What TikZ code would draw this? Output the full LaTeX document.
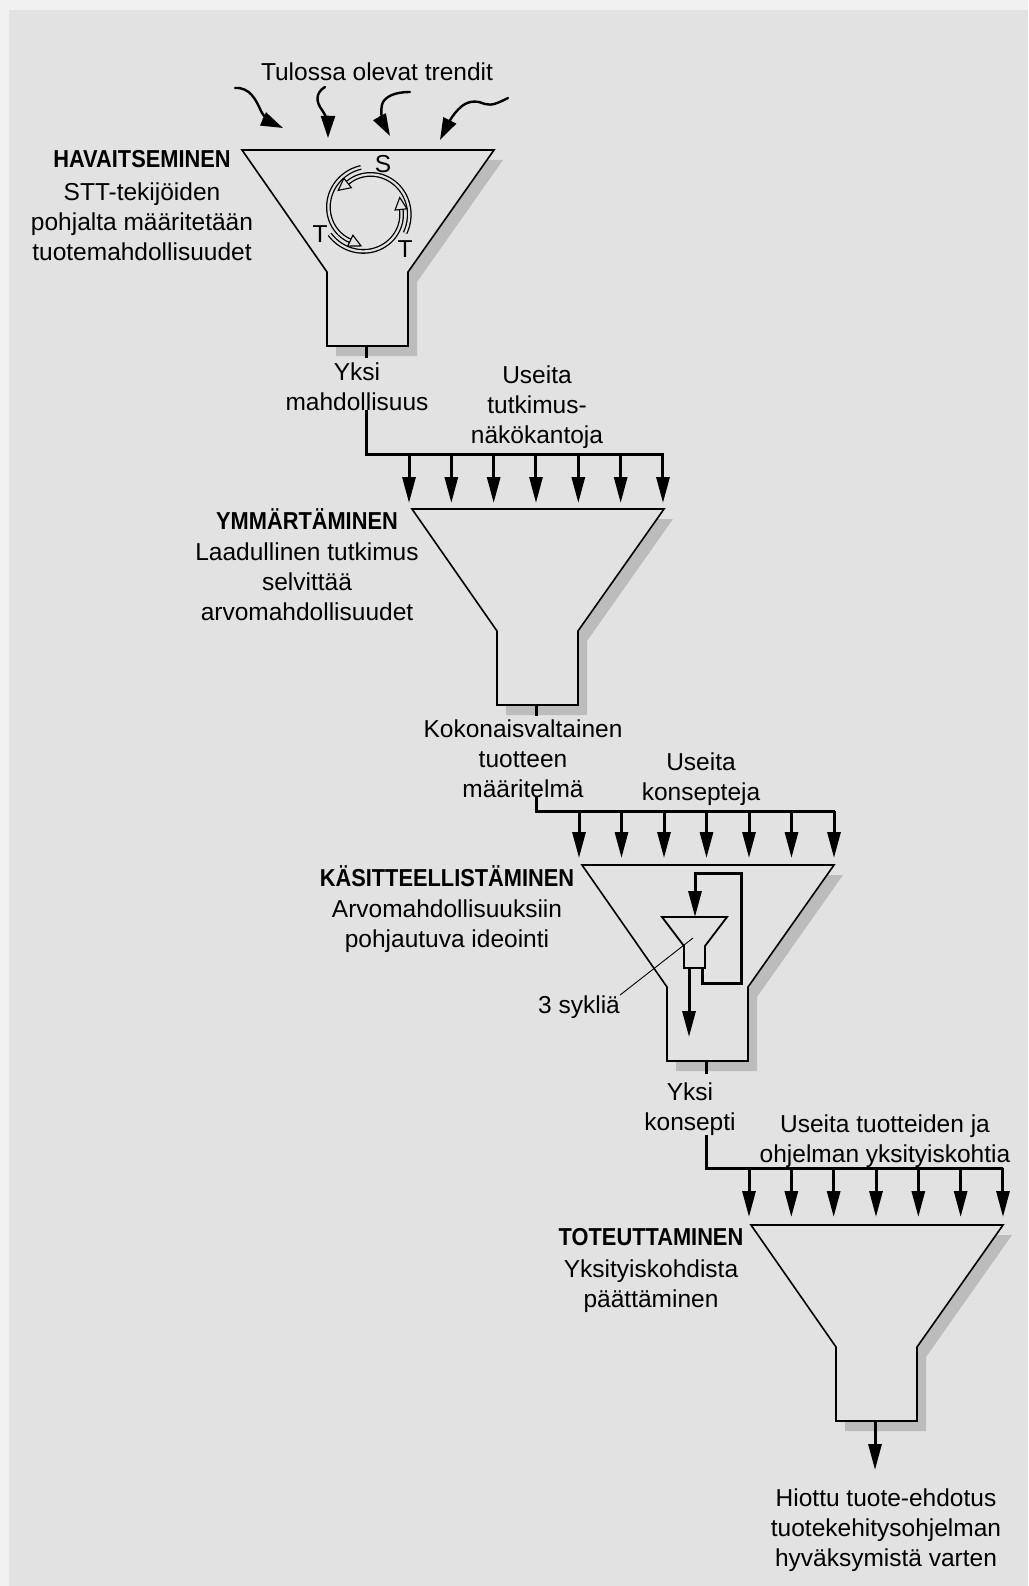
\documentclass[tikz,border=0pt]{standalone}
\usepackage{fontspec}
\newfontfamily\dfont[BoldFeatures={FakeStretch=0.89}]{Liberation Sans}
\usetikzlibrary{arrows.meta}
\definecolor{paper}{HTML}{E2E2E2}
\definecolor{rim}{HTML}{F1F1F1}
\definecolor{shadowgray}{HTML}{BCBCBC}
\tikzset{
  lbl/.style={font=\dfont\fontsize{24.5}{30}\selectfont, align=center, inner sep=0pt, anchor=base},
  fline/.style={line width=1.6pt, line join=miter},
  conn/.style={line width=3pt},
  feed/.style={line width=3pt, -{Triangle[length=26pt,width=13pt]}},
  trend/.style={line width=2.4pt, line cap=round, -{Triangle[length=22pt,width=14pt]}},
  cycarc/.style={line width=1.3pt, double=paper, double distance=2.2pt},
  funnel/.pic={
    \fill[shadowgray] (9,10) -- (261,10) -- (175,132) -- (175,206) -- (94,206) -- (94,132) -- cycle;
    \filldraw[fill=paper, fline] (0,0) -- (252,0) -- (166,122) -- (166,196) -- (85,196) -- (85,122) -- cycle;
    \coordinate (-stem) at (124,196);
  },
  minifunnel/.pic={
    \filldraw[fill=paper, line width=1.8pt, line join=miter] (0,0) -- (65,0) -- (43,29) -- (43,51) -- (22,51) -- (22,29) -- cycle;
    \coordinate (-in) at (33,0);
    \coordinate (-out) at (27,51);
    \coordinate (-loop) at (40,51);
    \coordinate (-mid) at (31,21);
  }
}
\begin{document}
\begin{tikzpicture}[x=1pt,y=-1pt]
% page
\fill[rim] (0,0) rectangle (1028,1586);
\fill[paper] (9,10) rectangle (1028,1586);
\useasboundingbox (0,0) rectangle (1028,1586);

% the four funnels
\pic (f1) at (242,150) {funnel};
\pic (f2) at (412,509) {funnel};
\pic (f3) at (582,865) {funnel};
\pic (f4) at (751,1225) {funnel};

% incoming trends
\node[lbl] (trends) at (377,81) {Tulossa olevat trendit};
\draw[trend] (235,88) .. controls (250,87) and (256,100) .. (261,111) .. controls (265,119) and (272,123) .. (283,128);
\draw[trend] (325,87) .. controls (315,93) and (316,102) .. (322,110) .. controls (327,117) and (328,125) .. (328,138);
\draw[trend] (410,92) .. controls (400,92) and (388,94) .. (383,102) .. controls (379,110) and (384,125) .. (390,136);
\draw[trend] (508,98) .. controls (498,103) and (492,106) .. (485,104) .. controls (478,101) and (470,100) .. (462,106) .. controls (452,114) and (446,128) .. (440,140);

% S-T-T cycle
\foreach \a/\b in {-30/128, 98/244, 212/366}{
  \draw[cycarc] plot[domain=\a:\b, samples=50, variable=\t]
    ({367+(44-10*(\t-\a)/(\b-\a))*cos(\t)}, {211-(44-10*(\t-\a)/(\b-\a))*sin(\t)});
  \pgfmathsetmacro\px{367+34*cos(\b)}
  \pgfmathsetmacro\py{211-34*sin(\b)}
  \pgfmathsetmacro\dx{-sin(\b)}
  \pgfmathsetmacro\dy{-cos(\b)}
  \draw[fill=paper, line width=1.1pt, line join=miter]
    (\px+10*\dx, \py+10*\dy) -- (\px-2*\dx+6*\dy, \py-2*\dy-6*\dx) -- (\px-2*\dx-6*\dy, \py-2*\dy+6*\dx) -- cycle;
}
\node[lbl] (cs) at (383,173) {S};
\node[lbl] (ct1) at (320,243) {T};
\node[lbl] (ct2) at (405,258) {T};

% stage texts (anchored at the baseline of their last line)
\node[lbl] (st1) at (142,261) {\textbf{HAVAITSEMINEN}\\[3pt] STT-tekijöiden\\ pohjalta määritetään\\ tuotemahdollisuudet};
\node[lbl] (st2) at (307,620) {\textbf{YMMÄRTÄMINEN}\\[1pt] Laadullinen tutkimus\\ selvittää\\ arvomahdollisuudet};
\node[lbl] (st3) at (447,947) {\textbf{KÄSITTEELLISTÄMINEN}\\[1pt] Arvomahdollisuuksiin\\ pohjautuva ideointi};
\node[lbl] (st4) at (651,1307) {\textbf{TOTEUTTAMINEN}\\[2pt] Yksityiskohdista\\ päättäminen};

% outputs and inputs between stages
\node[lbl] (out1) at (357,410) {Yksi\\ mahdollisuus};
\node[lbl] (many1) at (537,443) {Useita\\ tutkimus-\\ näkökantoja};
\node[lbl] (out2) at (523,797) {Kokonaisvaltainen\\ tuotteen\\ määritelmä};
\node[lbl] (many2) at (701,800) {Useita\\ konsepteja};
\node[lbl] (out3) at (690,1130) {Yksi\\ konsepti};
\node[lbl] (many3) at (885,1162) {Useita tuotteiden ja\\ ohjelman yksityiskohtia};
\node[lbl] (result) at (886,1566) {Hiottu tuote-ehdotus\\ tuotekehitysohjelman\\ hyväksymistä varten};

% stage 1 -> stage 2
\draw[conn] (f1-stem) -- ++(0,12);
\coordinate (bar1) at (664,454);
\draw[conn] (out1.south -| f1-stem) |- (bar1);
\foreach \i in {0,...,6} \draw[feed] (409+\i*42.33,454) -- (409+\i*42.33,503);

% stage 2 -> stage 3
\draw[conn] (f2-stem) -- ++(0,11);
\coordinate (bar2) at (835,811);
\draw[conn] (out2.south -| f2-stem) |- (bar2);
\foreach \i in {0,...,6} \draw[feed] (579+\i*42.5,811) -- (579+\i*42.5,858);

% inner cycle of stage 3
\pic (mf) at (662,917) {minifunnel};
\coordinate (loopR) at (741,873);
\draw[feed] (mf-loop) -- ++(0,15) -| (loopR) -| (mf-in);
\draw[feed] (mf-out) -- ++(0,69);
\node[lbl] (cyc) at (579,1013) {3 sykliä};
\draw[line width=0.9pt] (mf-mid) -- (cyc.north east);

% stage 3 -> stage 4
\draw[conn] (f3-stem) -- ++(0,13);
\coordinate (bar3) at (1003,1168);
\draw[conn] (out3.south -| f3-stem) |- (bar3);
\foreach \i in {0,...,6} \draw[feed] (749+\i*42.33,1168) -- (749+\i*42.33,1217);

% final result
\draw[feed] (f4-stem) -- ++(0,49);
\end{tikzpicture}
\end{document}
